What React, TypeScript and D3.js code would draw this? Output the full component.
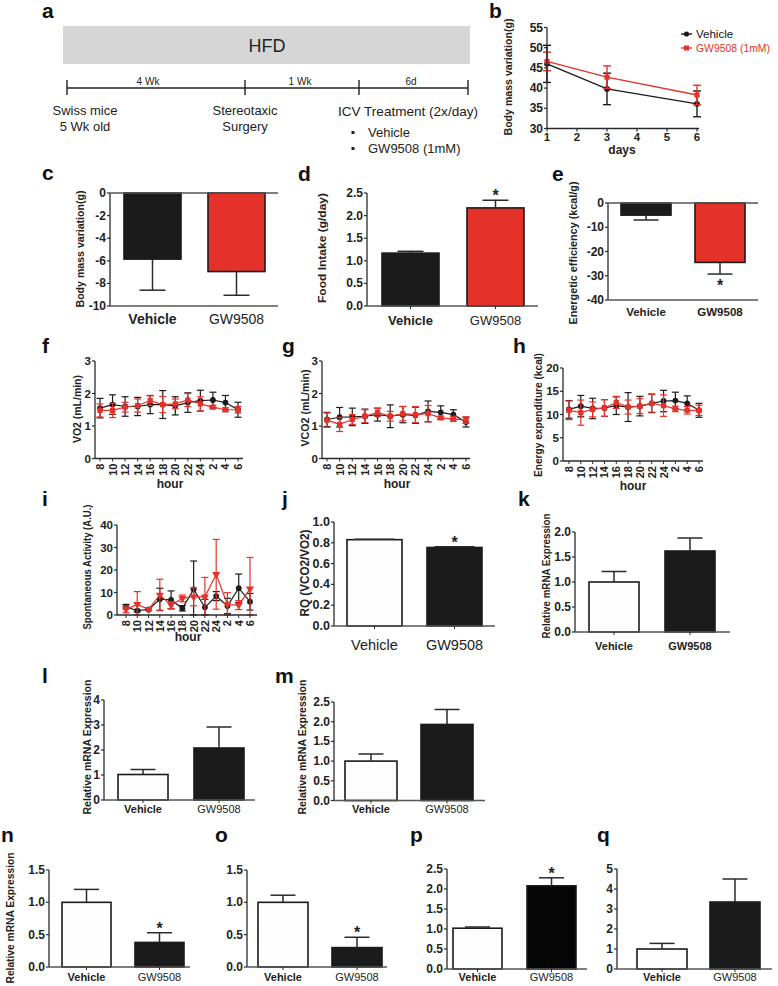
import React from "react";
import * as d3 from "d3";

const FONT = "'Liberation Sans', Arial, Helvetica, sans-serif";
const RED = "#e4322b";
const BLACK = "#1b1b1b";
const AXIS = "#2a2a2a";

const groups = ["Vehicle", "GW9508"];

// ---- panel b : body mass over days
const bDays = [1, 3, 6];
const bDayTicks = [1, 2, 3, 4, 5, 6];
const bMassTicks = [30, 35, 40, 45, 50, 55];
const bVehicle = [46.0, 39.8, 36.1];
const bVehicleErr = [4.6, 3.9, 3.2];
const bGW = [46.6, 42.7, 38.3];
const bGWErr = [2.3, 2.8, 2.4];

// ---- hourly panels
const hours = ["8", "10", "12", "14", "16", "18", "20", "22", "24", "2", "4", "6"];

const vo2Veh = [1.55, 1.66, 1.6, 1.6, 1.66, 1.66, 1.62, 1.72, 1.78, 1.8, 1.72, 1.5];
const vo2VehErr = [0.3, 0.3, 0.3, 0.28, 0.28, 0.43, 0.28, 0.3, 0.32, 0.24, 0.22, 0.23];
const vo2GW = [1.48, 1.48, 1.58, 1.63, 1.78, 1.66, 1.68, 1.8, 1.68, 1.58, 1.5, 1.5];
const vo2GWErr = [0.2, 0.22, 0.15, 0.2, 0.15, 0.25, 0.15, 0.2, 0.22, 0.05, 0.06, 0.1];

const vco2Veh = [1.2, 1.27, 1.28, 1.3, 1.35, 1.3, 1.35, 1.33, 1.45, 1.42, 1.35, 1.12];
const vco2VehErr = [0.22, 0.3, 0.27, 0.22, 0.2, 0.35, 0.25, 0.25, 0.32, 0.2, 0.15, 0.15];
const vco2GW = [1.18, 1.05, 1.2, 1.3, 1.42, 1.3, 1.38, 1.35, 1.38, 1.25, 1.22, 1.18];
const vco2GWErr = [0.22, 0.22, 0.15, 0.2, 0.12, 0.15, 0.22, 0.25, 0.25, 0.05, 0.08, 0.1];

const eeVeh = [11.1, 11.8, 11.3, 11.4, 11.9, 11.6, 11.8, 12.4, 12.9, 13.0, 12.4, 10.9];
const eeVehErr = [1.9, 2.3, 2.2, 1.8, 1.9, 3.1, 2.1, 2.0, 2.3, 1.8, 1.6, 1.5];
const eeGW = [10.9, 10.4, 11.1, 11.4, 12.6, 11.6, 11.8, 12.4, 11.9, 11.2, 10.9, 10.9];
const eeGWErr = [2.0, 2.7, 1.6, 1.8, 1.3, 1.5, 1.6, 1.9, 2.3, 0.6, 0.8, 1.1];

const saVeh = [3.7, 1.9, 2.5, 7.0, 6.7, 3.0, 11.4, 3.4, 8.4, 4.0, 11.9, 5.9];
const saVehErr = [1.0, 0.5, 0.5, 4.9, 4.0, 1.2, 12.6, 3.6, 2.0, 3.4, 6.3, 3.7];
const saGW = [2.5, 4.7, 2.5, 8.9, 4.4, 7.4, 8.1, 8.1, 18.1, 4.6, 4.4, 11.6];
const saGWErr = [1.5, 5.7, 0.5, 7.0, 1.5, 1.5, 4.0, 8.6, 15.5, 5.3, 2.0, 14.0];

// ---- bar panels (Vehicle, GW9508)
const cValues = [-5.85, -6.95];
const cErr = [2.75, 2.1];
const dValues = [1.17, 2.17];
const dErr = [0.04, 0.17];
const eValues = [-5.0, -24.5];
const eErr = [2.0, 4.8];
const jValues = [0.83, 0.755];
const jErr = [0.004, 0.006];
const kValues = [1.0, 1.62];
const kErr = [0.21, 0.26];
const lValues = [1.02, 2.08];
const lErr = [0.2, 0.84];
const mValues = [1.0, 1.93];
const mErr = [0.18, 0.38];
const nValues = [1.0, 0.38];
const nErr = [0.2, 0.15];
const oValues = [1.0, 0.3];
const oErr = [0.11, 0.16];
const pValues = [1.02, 2.08];
const pErr = [0.03, 0.2];
const qValues = [1.0, 3.35];
const qErr = [0.28, 1.15];

type BarCfg = {
  letter: string; lx: number; ly: number;
  x0: number; x1: number; barL: number; barR: number; barW: number;
  yTop: number; yBot: number; domain: [number, number];
  ticks: number[]; dec: number;
  values: number[]; errs: number[]; fills: string[]; stars: boolean[];
  title?: string; tx?: number; ty?: number; tlen?: number; tsize?: number;
  labelY: number; labelSize: number; weights: string[]; tickSize: number; capW: number;
};

function Letter({ t, x, y }: { t: string; x: number; y: number }) {
  return (
    <text x={x} y={y} fontSize={21} fontWeight="bold" fill="#111">{t}</text>
  );
}

function YTitle({ t, x, y, len, size }: { t: string; x: number; y: number; len: number; size?: number }) {
  return (
    <text
      transform={`translate(${x},${y}) rotate(-90)`}
      textAnchor="middle"
      dominantBaseline="central"
      fontSize={size || 11}
      fontWeight="bold"
      fill="#222"
      textLength={len}
      lengthAdjust="spacingAndGlyphs"
    >
      {t}
    </text>
  );
}

function BarPanel({ p }: { p: BarCfg }) {
  const y = d3.scaleLinear().domain(p.domain).range([p.yBot, p.yTop]);
  const W = p.barR - p.barL;
  const gap = W - 2 * p.barW;
  const x = d3
    .scaleBand<string>()
    .domain(groups)
    .range([p.barL, p.barR])
    .paddingInner(gap / (p.barW + gap))
    .paddingOuter(0);
  const base = y(Math.max(p.domain[0], Math.min(p.domain[1], 0)));
  const bw = x.bandwidth();
  return (
    <g>
      <Letter t={p.letter} x={p.lx} y={p.ly} />
      {p.values.map((v, i) => {
        const g = groups[i];
        const bx = x(g)!;
        const yv = y(v);
        const sign = v >= 0 ? 1 : -1;
        const ye = y(v + sign * p.errs[i]);
        const cx = bx + bw / 2;
        return (
          <g key={g}>
            <rect
              x={bx}
              y={Math.min(yv, base)}
              width={bw}
              height={Math.abs(yv - base)}
              fill={p.fills[i]}
              stroke="#1a1a1a"
              strokeWidth={1.6}
            />
            <line x1={cx} x2={cx} y1={yv} y2={ye} stroke={AXIS} strokeWidth={1.5} />
            <line x1={cx - p.capW / 2} x2={cx + p.capW / 2} y1={ye} y2={ye} stroke={AXIS} strokeWidth={1.5} />
            {p.stars[i] && (
              <text
                x={cx}
                y={sign > 0 ? ye + 1 : ye + 17}
                textAnchor="middle"
                fontSize={16}
                fontWeight="bold"
                fill="#222"
              >
                *
              </text>
            )}
          </g>
        );
      })}
      <line x1={p.x0} x2={p.x0} y1={p.yTop} y2={p.yBot} stroke={AXIS} strokeWidth={1.3} />
      {p.ticks.map((t) => (
        <g key={t}>
          <line x1={p.x0 - 3} x2={p.x0} y1={y(t)} y2={y(t)} stroke={AXIS} strokeWidth={1.2} />
          <text
            x={p.x0 - 4}
            y={y(t)}
            textAnchor="end"
            dominantBaseline="central"
            fontSize={p.tickSize}
            fontWeight="bold"
            fill="#222"
          >
            {t.toFixed(p.dec)}
          </text>
        </g>
      ))}
      <line x1={p.x0} x2={p.x1} y1={base} y2={base} stroke="#555" strokeWidth={1.4} />
      {p.domain[0] < 0 && (
        <line x1={p.x0} x2={p.x1} y1={p.yBot} y2={p.yBot} stroke="#555" strokeWidth={1.4} />
      )}
      {p.domain[0] >= 0 &&
        groups.map((g) => (
          <line
            key={g}
            x1={x(g)! + bw / 2}
            x2={x(g)! + bw / 2}
            y1={p.yBot}
            y2={p.yBot + 3}
            stroke={AXIS}
            strokeWidth={1}
          />
        ))}
      {groups.map((g, i) => (
        <text
          key={g}
          x={x(g)! + bw / 2}
          y={p.labelY}
          textAnchor="middle"
          fontSize={p.labelSize}
          fontWeight={p.weights[i]}
          fill="#222"
        >
          {g}
        </text>
      ))}
      {p.title && <YTitle t={p.title} x={p.tx!} y={p.ty!} len={p.tlen!} size={p.tsize} />}
    </g>
  );
}

type Series = { values: number[]; errs: number[]; color: string; marker: "circle" | "square" | "tri" };
type LineCfg = {
  letter: string; lx: number; ly: number;
  x0: number; x1: number; ptL: number; ptR: number;
  yTop: number; yBot: number; domain: [number, number]; ticks: number[];
  series: Series[];
  title: string; tx: number; ty: number; tlen: number;
  hx: number; hy: number;
};

function Marker({ m, x, y, c }: { m: string; x: number; y: number; c: string }) {
  if (m === "circle") return <circle cx={x} cy={y} r={2.9} fill={c} />;
  if (m === "square") return <rect x={x - 2.6} y={y - 2.6} width={5.2} height={5.2} fill={c} />;
  const path = d3.symbol().type(d3.symbolTriangle).size(28)()!;
  return <path d={path} transform={`translate(${x},${y}) rotate(180)`} fill={c} />;
}

function LinePanel({ p }: { p: LineCfg }) {
  const x = d3.scalePoint<string>().domain(hours).range([p.ptL, p.ptR]);
  const y = d3.scaleLinear().domain(p.domain).range([p.yBot, p.yTop]).clamp(true);
  return (
    <g>
      <Letter t={p.letter} x={p.lx} y={p.ly} />
      {p.series.map((s, si) => {
        const line = d3
          .line<number>()
          .x((_, i) => x(hours[i])!)
          .y((d) => y(d));
        return (
          <g key={si}>
            <path d={line(s.values)!} fill="none" stroke={s.color} strokeWidth={1.2} />
            {s.values.map((v, i) => {
              const cx = x(hours[i])!;
              const hi = y(v + s.errs[i]);
              const lo = y(v - s.errs[i]);
              return (
                <g key={i}>
                  <line x1={cx} x2={cx} y1={hi} y2={lo} stroke={s.color} strokeWidth={1.2} />
                  <line x1={cx - 3.5} x2={cx + 3.5} y1={hi} y2={hi} stroke={s.color} strokeWidth={1.2} />
                  <line x1={cx - 3.5} x2={cx + 3.5} y1={lo} y2={lo} stroke={s.color} strokeWidth={1.2} />
                  <Marker m={s.marker} x={cx} y={y(v)} c={s.color} />
                </g>
              );
            })}
          </g>
        );
      })}
      <line x1={p.x0} x2={p.x0} y1={p.yTop} y2={p.yBot} stroke={AXIS} strokeWidth={1.3} />
      <line x1={p.x0} x2={p.x1} y1={p.yBot} y2={p.yBot} stroke={AXIS} strokeWidth={1.3} />
      {p.ticks.map((t) => (
        <g key={t}>
          <line x1={p.x0 - 3} x2={p.x0} y1={y(t)} y2={y(t)} stroke={AXIS} strokeWidth={1.2} />
          <text x={p.x0 - 4} y={y(t)} textAnchor="end" dominantBaseline="central" fontSize={11.5} fontWeight="bold" fill="#222">
            {t}
          </text>
        </g>
      ))}
      {hours.map((h) => (
        <g key={h}>
          <line x1={x(h)!} x2={x(h)!} y1={p.yBot} y2={p.yBot + 3} stroke={AXIS} strokeWidth={1} />
          <text
            transform={`translate(${x(h)!},${p.yBot + 5}) rotate(-90)`}
            textAnchor="end"
            dominantBaseline="central"
            fontSize={11}
            fontWeight="bold"
            fill="#222"
          >
            {h}
          </text>
        </g>
      ))}
      <text x={p.hx} y={p.hy} textAnchor="middle" fontSize={12} fontWeight="bold" fill="#222">hour</text>
      <YTitle t={p.title} x={p.tx} y={p.ty} len={p.tlen} />
    </g>
  );
}

function PanelA() {
  const tl = d3.scaleLinear().domain([0, 1]).range([67, 468]);
  const marks = [67, 245, 359, 468];
  return (
    <g>
      <Letter t="a" x={42} y={18} />
      <rect x={63} y={26} width={407} height={38} fill="#d6d6d6" />
      <text x={267} y={46} textAnchor="middle" dominantBaseline="central" fontSize={18} fill="#222">HFD</text>
      <line x1={tl(0)} x2={tl(1)} y1={88} y2={88} stroke="#222" strokeWidth={1.4} />
      {marks.map((m) => (
        <line key={m} x1={m} x2={m} y1={80} y2={95} stroke="#222" strokeWidth={1.4} />
      ))}
      <text x={148} y={85} textAnchor="middle" fontSize={10} fill="#222">4 Wk</text>
      <text x={300} y={85} textAnchor="middle" fontSize={10} fill="#222">1 Wk</text>
      <text x={411} y={85} textAnchor="middle" fontSize={10} fill="#222">6d</text>
      <text x={85} y={115} textAnchor="middle" fontSize={13} fill="#222">Swiss mice</text>
      <text x={85} y={131} textAnchor="middle" fontSize={13} fill="#222">5 Wk old</text>
      <text x={245} y={115} textAnchor="middle" fontSize={13} fill="#222">Stereotaxic</text>
      <text x={245} y={131} textAnchor="middle" fontSize={13} fill="#222">Surgery</text>
      <text x={338} y={116} fontSize={13} fill="#222" textLength={140} lengthAdjust="spacingAndGlyphs">ICV Treatment (2x/day)</text>
      <rect x={351.5} y={131} width={3} height={3} fill="#222" />
      <text x={368} y={137} fontSize={13} fill="#222">Vehicle</text>
      <rect x={351.5} y={147} width={3} height={3} fill="#222" />
      <text x={368} y={153} fontSize={13} fill="#222">GW9508 (1mM)</text>
    </g>
  );
}

function PanelB() {
  const x = d3.scaleLinear().domain([1, 6]).range([547, 697]);
  const y = d3.scaleLinear().domain([30, 55]).range([128.5, 27.5]);
  const series = [
    { v: bVehicle, e: bVehicleErr, c: BLACK, m: "circle" },
    { v: bGW, e: bGWErr, c: RED, m: "square" },
  ];
  return (
    <g>
      <Letter t="b" x={489} y={18} />
      {series.map((s, si) => {
        const line = d3
          .line<number>()
          .x((_, i) => x(bDays[i]))
          .y((d) => y(d));
        return (
          <g key={si}>
            <path d={line(s.v)!} fill="none" stroke={s.c} strokeWidth={1.4} />
            {s.v.map((v, i) => {
              const cx = x(bDays[i]);
              const hi = y(v + s.e[i]);
              const lo = y(v - s.e[i]);
              return (
                <g key={i}>
                  <line x1={cx} x2={cx} y1={hi} y2={lo} stroke={s.c} strokeWidth={1.4} />
                  <line x1={cx - 4} x2={cx + 4} y1={hi} y2={hi} stroke={s.c} strokeWidth={1.4} />
                  <line x1={cx - 4} x2={cx + 4} y1={lo} y2={lo} stroke={s.c} strokeWidth={1.4} />
                  <Marker m={s.m} x={cx} y={y(v)} c={s.c} />
                </g>
              );
            })}
          </g>
        );
      })}
      <line x1={547} x2={547} y1={y(55)} y2={y(30)} stroke={AXIS} strokeWidth={1.3} />
      <line x1={547} x2={699} y1={y(30)} y2={y(30)} stroke={AXIS} strokeWidth={1.3} />
      {bMassTicks.map((t) => (
        <g key={t}>
          <line x1={544} x2={547} y1={y(t)} y2={y(t)} stroke={AXIS} strokeWidth={1.2} />
          <text x={543} y={y(t)} textAnchor="end" dominantBaseline="central" fontSize={12} fontWeight="bold" fill="#222">{t}</text>
        </g>
      ))}
      {bDayTicks.map((t) => (
        <g key={t}>
          <line x1={x(t)} x2={x(t)} y1={y(30)} y2={y(30) + 3} stroke={AXIS} strokeWidth={1.2} />
          <text x={x(t)} y={y(30) + 12.5} textAnchor="middle" fontSize={11.5} fontWeight="bold" fill="#222">{t}</text>
        </g>
      ))}
      <text x={622} y={154} textAnchor="middle" fontSize={12} fontWeight="bold" fill="#222">days</text>
      <YTitle t="Body mass variation(g)" x={508} y={77} len={117} />
      <line x1={681} x2={692} y1={34} y2={34} stroke={BLACK} strokeWidth={1.4} />
      <circle cx={686.5} cy={34} r={2.6} fill={BLACK} />
      <text x={696} y={34} dominantBaseline="central" fontSize={11.5} fill="#111">Vehicle</text>
      <line x1={681} x2={692} y1={48} y2={48} stroke={RED} strokeWidth={1.4} />
      <rect x={684} y={45.5} width={5} height={5} fill={RED} />
      <text x={696} y={48} dominantBaseline="central" fontSize={11} fill={RED} textLength={74} lengthAdjust="spacingAndGlyphs">GW9508 (1mM)</text>
    </g>
  );
}

const range = (a: number, b: number, s: number) => d3.range(a, b + s / 2, s);

const barPanels: BarCfg[] = [
  {
    letter: "c", lx: 42, ly: 180, x0: 110, x1: 278, barL: 124, barR: 265, barW: 57,
    yTop: 193, yBot: 306, domain: [-10, 0], ticks: range(-10, 0, 2), dec: 0,
    values: cValues, errs: cErr, fills: [BLACK, RED], stars: [false, false],
    title: "Body mass variation(g)", tx: 80, ty: 249, tlen: 117,
    labelY: 324, labelSize: 14, weights: ["bold", "normal"], tickSize: 12, capW: 26,
  },
  {
    letter: "d", lx: 298, ly: 181, x0: 367, x1: 538, barL: 382, barR: 524, barW: 57,
    yTop: 193, yBot: 306, domain: [0, 2.5], ticks: range(0, 2.5, 0.5), dec: 1,
    values: dValues, errs: dErr, fills: [BLACK, RED], stars: [false, true],
    title: "Food Intake (g/day)", tx: 322, ty: 248, tlen: 110,
    labelY: 325, labelSize: 13, weights: ["bold", "normal"], tickSize: 12, capW: 26,
  },
  {
    letter: "e", lx: 552, ly: 181, x0: 608, x1: 758, barL: 621, barR: 745, barW: 50,
    yTop: 203, yBot: 300, domain: [-40, 0], ticks: range(-40, 0, 10), dec: 0,
    values: eValues, errs: eErr, fills: [BLACK, RED], stars: [false, true],
    title: "Energetic efficiency (kcal/g)", tx: 573, ty: 253, tlen: 143,
    labelY: 316, labelSize: 11.5, weights: ["bold", "bold"], tickSize: 12, capW: 25,
  },
  {
    letter: "j", lx: 282, ly: 506, x0: 334, x1: 495, barL: 347, barR: 482, barW: 55,
    yTop: 522, yBot: 626, domain: [0, 1], ticks: range(0, 1, 0.2), dec: 1,
    values: jValues, errs: jErr, fills: ["#fdfdfd", BLACK], stars: [false, true],
    title: "RQ (VCO2/VO2)", tx: 305, ty: 573, tlen: 87, tsize: 12,
    labelY: 650, labelSize: 14.5, weights: ["normal", "normal"], tickSize: 12.5, capW: 40,
  },
  {
    letter: "k", lx: 518, ly: 506, x0: 575, x1: 730, barL: 589, barR: 715, barW: 50,
    yTop: 532, yBot: 632, domain: [0, 2], ticks: range(0, 2, 0.5), dec: 1,
    values: kValues, errs: kErr, fills: ["#fdfdfd", BLACK], stars: [false, false],
    title: "Relative mRNA Expression", tx: 546, ty: 576, tlen: 125, tsize: 10.5,
    labelY: 650, labelSize: 11, weights: ["bold", "bold"], tickSize: 12, capW: 25,
  },
  {
    letter: "l", lx: 42, ly: 683, x0: 104, x1: 255, barL: 118, barR: 244, barW: 50,
    yTop: 700, yBot: 800, domain: [0, 4], ticks: range(0, 4, 1), dec: 0,
    values: lValues, errs: lErr, fills: ["#fdfdfd", BLACK], stars: [false, false],
    title: "Relative mRNA Expression", tx: 87, ty: 747, tlen: 135,
    labelY: 813, labelSize: 11, weights: ["bold", "normal"], tickSize: 12, capW: 25,
  },
  {
    letter: "m", lx: 275, ly: 683, x0: 334, x1: 485, barL: 345, barR: 473, barW: 52,
    yTop: 702, yBot: 800.5, domain: [0, 2.5], ticks: range(0, 2.5, 0.5), dec: 1,
    values: mValues, errs: mErr, fills: ["#fdfdfd", BLACK], stars: [false, false],
    title: "Relative mRNA Expression", tx: 302, ty: 747, tlen: 135, tsize: 10.5,
    labelY: 813, labelSize: 11, weights: ["bold", "normal"], tickSize: 12, capW: 25,
  },
  {
    letter: "n", lx: 1, ly: 842, x0: 49, x1: 190, barL: 62, barR: 184, barW: 49,
    yTop: 870, yBot: 967, domain: [0, 1.5], ticks: range(0, 1.5, 0.5), dec: 1,
    values: nValues, errs: nErr, fills: ["#fdfdfd", BLACK], stars: [false, true],
    title: "Relative mRNA Expression", tx: 10, ty: 918, tlen: 131,
    labelY: 981, labelSize: 11, weights: ["bold", "normal"], tickSize: 12, capW: 25,
  },
  {
    letter: "o", lx: 215, ly: 842, x0: 247, x1: 387, barL: 258, barR: 382, barW: 50,
    yTop: 870, yBot: 967, domain: [0, 1.5], ticks: range(0, 1.5, 0.5), dec: 1,
    values: oValues, errs: oErr, fills: ["#fdfdfd", BLACK], stars: [false, true],
    labelY: 981, labelSize: 11, weights: ["bold", "normal"], tickSize: 12, capW: 25,
  },
  {
    letter: "p", lx: 410, ly: 842, x0: 447, x1: 587, barL: 453, barR: 576, barW: 49,
    yTop: 869, yBot: 969, domain: [0, 2.5], ticks: range(0, 2.5, 0.5), dec: 1,
    values: pValues, errs: pErr, fills: ["#fdfdfd", "#050505"], stars: [false, true],
    labelY: 981, labelSize: 11, weights: ["bold", "normal"], tickSize: 12, capW: 25,
  },
  {
    letter: "q", lx: 597, ly: 842, x0: 617, x1: 772, barL: 637, barR: 760, barW: 50,
    yTop: 869, yBot: 969, domain: [0, 5], ticks: range(0, 5, 1), dec: 0,
    values: qValues, errs: qErr, fills: ["#fdfdfd", BLACK], stars: [false, false],
    labelY: 981, labelSize: 11, weights: ["bold", "normal"], tickSize: 12, capW: 25,
  },
];

const linePanels: LineCfg[] = [
  {
    letter: "f", lx: 42, ly: 353, x0: 95, x1: 243, ptL: 100, ptR: 238,
    yTop: 361, yBot: 458.5, domain: [0, 3], ticks: [0, 1, 2, 3],
    series: [
      { values: vo2Veh, errs: vo2VehErr, color: BLACK, marker: "circle" },
      { values: vo2GW, errs: vo2GWErr, color: RED, marker: "square" },
    ],
    title: "VO2 (mL/min)", tx: 77, ty: 409, tlen: 68, hx: 170, hy: 488,
  },
  {
    letter: "g", lx: 282, ly: 353, x0: 322, x1: 470, ptL: 327, ptR: 466,
    yTop: 361, yBot: 458.5, domain: [0, 3], ticks: [0, 1, 2, 3],
    series: [
      { values: vco2Veh, errs: vco2VehErr, color: BLACK, marker: "circle" },
      { values: vco2GW, errs: vco2GWErr, color: RED, marker: "square" },
    ],
    title: "VCO2 (mL/min)", tx: 305, ty: 408, tlen: 77, hx: 397, hy: 488,
  },
  {
    letter: "h", lx: 513, ly: 353, x0: 563, x1: 703, ptL: 569, ptR: 699,
    yTop: 368, yBot: 461, domain: [0, 20], ticks: [0, 5, 10, 15, 20],
    series: [
      { values: eeVeh, errs: eeVehErr, color: BLACK, marker: "circle" },
      { values: eeGW, errs: eeGWErr, color: RED, marker: "square" },
    ],
    title: "Energy expenditure (kcal)", tx: 538, ty: 415, tlen: 124, hx: 633, hy: 490,
  },
  {
    letter: "i", lx: 42, ly: 506, x0: 117, x1: 257, ptL: 126, ptR: 250,
    yTop: 525, yBot: 615, domain: [0, 40], ticks: [0, 10, 20, 30, 40],
    series: [
      { values: saVeh, errs: saVehErr, color: BLACK, marker: "circle" },
      { values: saGW, errs: saGWErr, color: RED, marker: "tri" },
    ],
    title: "Spontaneous Activity (A.U.)", tx: 87, ty: 567, tlen: 125, hx: 188, hy: 641,
  },
];

export default function App() {
  return (
    <svg
      width={778}
      height={986}
      viewBox="0 0 778 986"
      style={{ position: "absolute", left: 0, top: 0, background: "#fff" }}
      fontFamily={FONT}
    >
      <rect width={778} height={986} fill="#fff" />
      <PanelA />
      <PanelB />
      {barPanels.map((p) => (
        <BarPanel key={p.letter} p={p} />
      ))}
      {linePanels.map((p) => (
        <LinePanel key={p.letter} p={p} />
      ))}
    </svg>
  );
}
